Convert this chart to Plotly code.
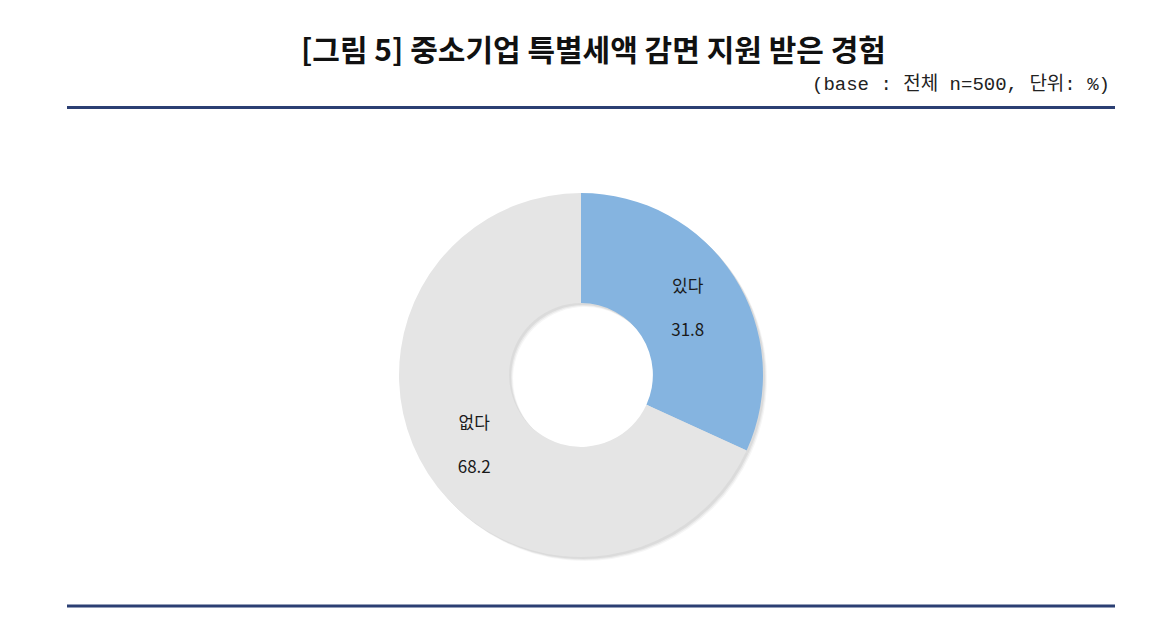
import plotly.graph_objects as go

labels = ["있다", "없다"]
values = [31.8, 68.2]
colors = ["#85B4E0", "#E5E5E5"]

title_text = "[그림 5] 중소기업 특별세액 감면 지원 받은 경험"
subtitle_text = "(base : 전체 n=500, 단위: %)"

W, H = 1174, 634
OFF = 8  # page body margin
cx, cy, r = 581 - OFF, 375 - OFF, 182
HOLE = 0.395


def domain_for(dx=0.0, dy=0.0, rr=r):
    return dict(x=[(cx + dx - rr) / W, (cx + dx + rr) / W],
                y=[(H - cy - dy - rr) / H, (H - cy - dy + rr) / H])


fig = go.Figure()

# soft drop shadow (stacked translucent rings)
for d, a in [(4, 0.035), (3, 0.05), (2, 0.06)]:
    fig.add_trace(go.Pie(
        labels=labels, values=values, sort=False, direction="clockwise", rotation=0,
        hole=HOLE, marker=dict(colors=[f"rgba(0,0,0,{a})"] * len(values), line=dict(width=0)),
        textinfo="none", hoverinfo="skip", showlegend=False,
        domain=domain_for(d, d),
    ))

fig.add_trace(go.Pie(
    labels=labels,
    values=values,
    marker=dict(colors=colors, line=dict(width=0)),
    hole=HOLE,
    sort=False,
    direction="clockwise",
    rotation=0,
    textinfo="label+value",
    texttemplate="%{label}<br><br>%{value}",
    textposition="inside",
    insidetextorientation="horizontal",
    textfont=dict(family="Noto Sans CJK KR, Noto Sans, sans-serif", size=17, color="#1a1a1a"),
    domain=domain_for(),
    showlegend=False,
    hoverinfo="label+value",
))

line_color = "#2B3F73"
for yp in [107.5, 606]:
    fig.add_shape(type="line", xref="paper", yref="paper",
                  x0=(67 - OFF) / W, x1=(1115 - OFF) / W,
                  y0=1 - (yp - OFF) / H, y1=1 - (yp - OFF) / H,
                  line=dict(color=line_color, width=3))

fig.add_annotation(text=title_text, xref="paper", yref="paper",
                   x=(593 - OFF) / W, y=1 - (48 - OFF) / H, xanchor="center", yanchor="middle",
                   showarrow=False,
                   font=dict(family="Noto Sans CJK KR, sans-serif", size=30, color="#111111", weight=600))
fig.add_annotation(text=subtitle_text, xref="paper", yref="paper",
                   x=(1112 - OFF) / W, y=1 - (84 - OFF) / H, xanchor="right", yanchor="middle",
                   showarrow=False,
                   font=dict(family="Liberation Mono, Noto Sans CJK KR, monospace", size=19, color="#222222"))

fig.update_layout(
    width=W, height=H,
    margin=dict(l=0, r=0, t=0, b=0),
    paper_bgcolor="white",
    plot_bgcolor="white",
)

fig.write_html("out.html")
